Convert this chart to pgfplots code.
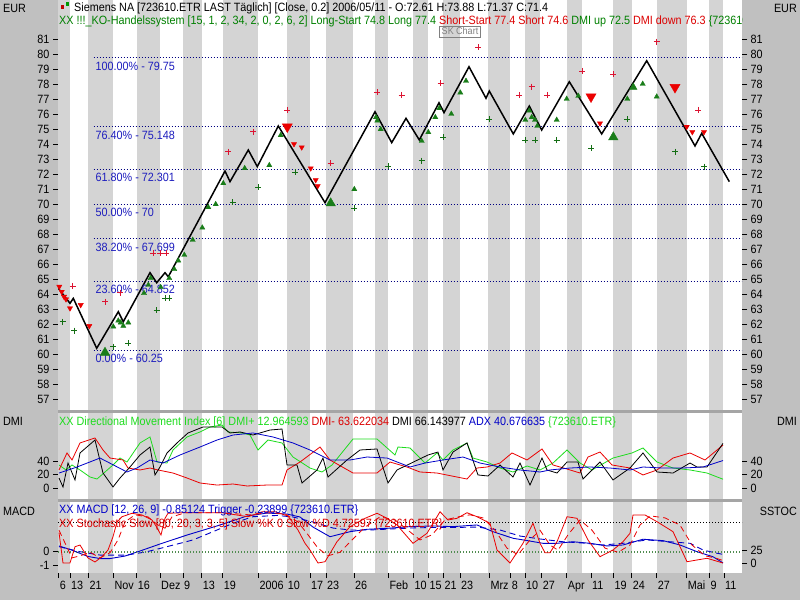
\documentclass[border=0pt]{standalone}
\usepackage{fontspec}
\setmainfont{Liberation Sans}[FakeStretch=0.9]
\usepackage{pgfplots}
\pgfplotsset{compat=1.18}
\definecolor{panelgray}{RGB}{192,192,192}
\definecolor{stripe}{RGB}{212,212,212}
\definecolor{sepgray}{RGB}{165,165,165}
\definecolor{mkred}{RGB}{235,0,0}
\definecolor{plred}{RGB}{220,20,50}
\definecolor{mkgreen}{RGB}{25,125,25}
\definecolor{plgreen}{RGB}{20,110,20}
\definecolor{dmigreen}{RGB}{30,220,30}
\definecolor{fibline}{RGB}{0,0,128}
\definecolor{fibtext}{RGB}{30,30,190}
\definecolor{txtgreen}{RGB}{0,128,0}
\definecolor{txtred}{RGB}{220,0,0}
\definecolor{ind}{RGB}{0,0,200}
\definecolor{dotgreen}{RGB}{80,140,80}
\newcommand\tf{\fontsize{12}{14}\selectfont}
\pgfplotsset{
  base/.style={scale only axis, width=684pt, xmin=58, xmax=742, anchor=south west,
    axis line style={draw=none}, tick align=outside, major tick length=5pt,
    tick style={black, line width=0.7pt},
    tick label style={font=\tf, text=black},
    /pgf/number format/assume math mode=true,
    xtick=\empty, clip=true},
  rightax/.style={ytick pos=right, yticklabel pos=right},
  leftax/.style={ytick pos=left, yticklabel pos=left},
}
\begin{document}
\begin{tikzpicture}
\path[use as bounding box, fill=panelgray] (0,0) rectangle (800pt,600pt);
\begin{scope}[x=1pt,y=-1pt,yshift=600pt]
  \fill[white] (58,0) rectangle (742,573);
  \foreach \a/\b in {58/70,88/113,137/160,183/202,223/258,287/310,326/353,375/388,413/428,443/460,488/510,525/540,567/582,613/632,657/687,709/723}
    {\fill[stripe] (\a,0) rectangle (\b,573);}
  \fill[sepgray] (58,410.5) rectangle (742,413);
  \fill[sepgray] (58,499) rectangle (742,501.5);
\end{scope}

% ---------------- main price panel
\begin{axis}[base, leftax, at={(58pt,188pt)}, height=412pt, ymin=56.1333, ymax=83.6, ytick={57,58,...,81}]
  \foreach \v in {79.75,75.148,72.301,70,67.699,64.852,60.25}{
    \edef\tmp{\noexpand\addplot[fibline, line width=0.8pt, dash pattern=on 0.9pt off 2.1pt] coordinates {(93.5,\v) (742,\v)};}\tmp}
  \addplot[black, line width=1.5pt] coordinates {(58.3,64.38) (70,63.38) (73.3,63.71) (96.7,60.38) (118.3,62.82) (123.3,62.15) (150,65.42) (156.7,64.75) (165,65.42) (168.3,65.15) (225,72.2) (230,71.49) (248.3,73.6) (257.3,72.49) (278.3,75.2) (325,70.09) (375,76.15) (391.7,74.09) (406,75.71) (419.3,74.27) (439,76.75) (444,76.09) (469,79.15) (486,77.05) (489.3,77.53) (513.3,74.67) (529.3,76.53) (541.7,74.93) (569.3,78.15) (601.7,74.67) (646.7,79.55) (695,73.87) (701.7,74.71) (729.3,71.49)};
  \addplot[only marks, mark=+, mark size=3pt, plred, mark options={line width=0.8pt}] coordinates {(72.7,64.53) (105,63.49) (120,64.09) (153.3,66.71) (160,66.71) (166,66.71) (228.3,73.49) (253.3,74.82) (287.3,76.27) (330.7,72.71) (377.3,77.45) (401.7,77.27) (440.7,78.05) (478.3,80.45) (519.3,77.25) (531.7,77.82) (547.3,77.27) (582.3,78.87) (613.3,78.65) (656.7,80.82) (698.3,76.27)};
  \addplot[only marks, mark=+, mark size=3pt, plgreen, mark options={line width=0.8pt}] coordinates {(62.7,62.15) (74,61.55) (113.3,60.49) (128.3,60.71) (156.7,62.93) (165,63.71) (169.3,63.71) (232.7,70.11) (258.3,71.11) (295,72.11) (354.3,69.71) (388.3,72.53) (421.7,72.89) (443.3,74.45) (489.3,75.65) (525.3,74.27) (535,74.27) (556.7,74.27) (591,73.71) (627.3,75.65) (675,73.49) (704,72.49)};
  \addplot[only marks, mark=triangle*, mark size=3pt, mkgreen] coordinates {(113.3,61.82) (118.3,62.22) (120.7,62.09) (123.3,61.87) (128.3,62.09) (144,64.05) (148.3,64.6) (150.7,65.05) (160.7,64.45) (169.3,65.05) (174.3,65.65) (178.3,66.22) (184.3,66.6) (192.7,67.6) (202.3,68.42) (208.3,69.78) (215.7,69.98) (223.3,71.38) (244.7,72.38) (269.3,72.58) (280.7,74.58) (354.3,70.98) (376,75.78) (377.3,75.55) (380.7,74.98) (421.7,74.2) (428.3,74.78) (435.3,75.78) (439.3,76.38) (451.3,76.0) (460.3,77.42) (466,78.2) (525.3,75.6) (529.3,76.22) (531.7,75.78) (535,75.6) (537.3,75.2) (556.7,75.6) (566.7,77.0) (578.3,77.2) (627.3,77.0) (642.7,78.0) (656.7,77.15)};
  \addplot[only marks, mark=triangle*, mark size=5.5pt, mkgreen] coordinates {(105,60.09) (330.7,70.05) (613.3,74.45)};
  \addplot[only marks, mark=triangle*, mark size=4.3pt, mkgreen] coordinates {(633.3,77.78)};
  \addplot[only marks, mark=triangle*, mark size=3pt, mkred, mark options={rotate=180}] coordinates {(59.3,64.49) (61.7,64.15) (64,63.82) (66,63.65) (70,63.05) (80.7,63.27) (89.3,61.87) (294,74.0) (301.7,73.78) (310.7,72.38) (315.7,71.6) (317.7,71.2) (600,75.38) (686.7,75.15) (692.3,74.8) (704,74.8)};
  \addplot[only marks, mark=triangle*, mark size=5.8pt, mkred, mark options={rotate=180}] coordinates {(287.3,75.15) (591,77.15) (675,77.78)};
  \foreach \v/\t in {79.75/100.00\% - 79.75, 75.148/76.40\% - 75.148, 72.301/61.80\% - 72.301, 70/50.00\% - 70, 67.699/38.20\% - 67.699, 64.852/23.60\% - 64.852, 60.25/0.00\% - 60.25}{
    \edef\tmp{\noexpand\node[anchor=base west, inner sep=0pt, text=fibtext, font=\noexpand\tf, yshift=-12.5pt] at (axis cs:95.5,\v) {\t};}\tmp}
\end{axis}
\begin{axis}[base, rightax, at={(58pt,188pt)}, height=412pt, ymin=56.1333, ymax=83.6, ytick={57,58,...,81}]
\end{axis}

% ---------------- DMI panel
\begin{axis}[base, leftax, at={(58pt,101pt)}, height=85pt, ymin=-16.30, ymax=109.63, ytick={0,20,40}]
  \addplot[dmigreen, line width=0.8pt] coordinates {(59,34.1) (66,26.7) (72,34.1) (80,26.7) (90,16.3) (97,13.3) (113,34.1) (120,44.4) (127,38.5) (140,66.7) (150,75.6) (157,38.5) (167,37.0) (173,56.3) (187,75.6) (200,83.0) (210,90.4) (222,93.3) (228,83.0) (242,81.5) (250,78.5) (258,56.3) (268,71.1) (282,66.7) (293,45.9) (310,29.6) (322,23.7) (332,34.1) (353,72.6) (377,72.6) (395,48.9) (398,60.7) (410,59.3) (425,37.0) (437,51.9) (443,41.5) (453,56.3) (467,66.7) (473,44.4) (487,38.5) (500,29.6) (513,23.7) (527,32.6) (540,26.7) (553,37.0) (567,56.3) (580,37.0) (592,26.7) (613,44.4) (632,51.9) (643,59.3) (657,38.5) (673,29.6) (690,26.7) (707,22.2) (723,13.0)};
  \addplot[mkred, line width=0.8pt] coordinates {(59,26.7) (67,51.9) (72,41.5) (80,66.7) (95,74.1) (103,56.3) (110,44.4) (123,41.5) (128,29.6) (140,26.7) (150,29.6) (158,26.7) (173,22.2) (187,14.8) (200,7.4) (217,4.4) (233,5.9) (247,3.0) (267,4.4) (282,4.4) (287,26.7) (300,38.5) (320,60.7) (330,41.5) (353,22.2) (377,22.2) (390,38.5) (407,31.1) (420,23.7) (437,22.2) (467,13.3) (477,29.6) (487,31.1) (500,37.0) (512,51.9) (527,41.5) (542,57.8) (553,34.1) (567,28.1) (580,22.2) (588,45.9) (600,53.3) (612,34.1) (630,29.6) (643,19.3) (657,26.7) (673,44.4) (690,51.9) (705,41.5) (723,63.6)};
  \addplot[black, line width=0.8pt] coordinates {(59,14.8) (63,1.5) (68,37.0) (75,11.9) (80,51.9) (95,71.1) (103,22.2) (113,1.5) (120,14.8) (130,31.1) (140,48.9) (150,60.7) (155,19.3) (160,31.1) (167,51.9) (177,66.7) (188,81.5) (203,90.4) (222,90.4) (230,81.5) (240,83.0) (253,78.5) (270,85.9) (282,87.4) (287,34.1) (297,34.1) (302,7.4) (317,26.7) (323,44.4) (328,16.3) (347,41.5) (360,56.3) (377,57.8) (388,7.4) (397,26.7) (428,48.9) (438,53.3) (443,26.7) (453,53.3) (467,66.7) (478,19.3) (488,17.8) (500,34.1) (513,16.3) (520,37.0) (530,4.4) (542,44.4) (547,26.7) (557,22.2) (567,38.5) (578,38.5) (583,13.3) (600,38.5) (613,11.9) (630,29.6) (643,51.9) (657,23.7) (673,22.2) (690,37.0) (697,31.1) (707,31.1) (723,66.1)};
  \addplot[ind, line width=0.8pt] coordinates {(59,22.2) (77,31.1) (100,44.4) (127,23.7) (137,29.6) (150,41.5) (163,37.0) (180,48.9) (200,60.7) (217,71.1) (233,78.5) (253,81.5) (273,75.6) (293,66.7) (310,56.3) (330,41.5) (350,41.5) (367,45.9) (387,44.4) (410,31.1) (425,37.0) (443,41.5) (463,45.9) (480,37.0) (500,31.1) (520,26.7) (540,23.7) (550,26.7) (570,29.6) (590,31.1) (610,29.6) (630,26.7) (643,31.1) (663,29.6) (683,29.6) (703,31.1) (723,40.7)};
\end{axis}
\begin{axis}[base, rightax, at={(58pt,101pt)}, height=85pt, ymin=-16.30, ymax=109.63, ytick={0,20,40}]
\end{axis}

% ---------------- MACD / Stochastic panel
\begin{axis}[base, leftax, at={(58pt,27pt)}, height=71pt, ymin=-1.5714, ymax=3.5, ytick={-1,0}, yticklabels={-1,0},
   xtick={58.7,70,88.3,113.3,136.7,160,183,201.7,222.7,258.3,286.7,310,326,354,388.3,413.3,428.3,443.3,460,489.3,510.7,525,541.7,566.7,591,613.3,631.7,656.7,686.7,709.3,724},
   xticklabels={6,13,21,Nov,16,Dez,9,13,19,2006,10,17,23,26,Feb,10,15,21,23,Mrz,8,10,27,Apr,11,19,24,27,Mai,9,11},
   xtick pos=bottom, xticklabel style={anchor=north west, inner sep=0pt, xshift=1pt, yshift=-3pt}]
  \addplot[dotgreen, line width=0.8pt, dash pattern=on 0.9pt off 2.1pt] coordinates {(58,0) (742,0)};
  \addplot[ind, line width=0.9pt] coordinates {(59,0.36) (70,0.11) (88,-0.39) (100,-0.54) (110,-0.54) (125,-0.36) (140,0.0) (160,0.5) (187,1.14) (217,1.79) (247,2.5) (267,2.71) (287,2.64) (300,2.43) (313,1.71) (330,1.02) (350,1.38) (367,1.55) (387,1.62) (410,1.74) (433,1.79) (453,1.74) (477,1.86) (493,1.38) (513,0.91) (530,0.71) (543,0.55) (557,0.55) (573,0.66) (590,0.55) (607,0.36) (623,0.43) (643,0.84) (663,0.74) (680,0.43) (697,-0.05) (713,-0.41) (723,-0.85)};
  \addplot[ind, line width=0.9pt, dash pattern=on 6pt off 4pt] coordinates {(59,0.31) (80,-0.05) (100,-0.29) (127,-0.29) (147,-0.05) (167,0.31) (193,0.79) (213,1.38) (233,1.98) (253,2.45) (277,2.54) (293,2.43) (313,2.07) (333,1.64) (350,1.5) (370,1.5) (390,1.57) (410,1.64) (433,1.68) (453,1.68) (477,1.71) (500,1.5) (520,1.07) (540,0.86) (563,0.66) (583,0.57) (603,0.43) (623,0.55) (647,0.79) (670,0.66) (690,0.55) (703,0.07) (717,-0.16) (723,-0.24)};
\end{axis}
\begin{axis}[base, rightax, at={(58pt,27pt)}, height=71pt, ymin=-19.51, ymax=119.02, ytick={0,25}]
  \addplot[black, line width=0.8pt, dash pattern=on 0.9pt off 2.1pt] coordinates {(58,80) (742,80)};
  \addplot[dotgreen, line width=0.8pt, dash pattern=on 0.9pt off 2.1pt] coordinates {(58,20) (742,20)};
  \addplot[mkred, line width=0.8pt] coordinates {(59,59.5) (63,0) (70,0) (75,31.8) (80,35.1) (88,9.8) (95,2.0) (102,12.3) (108,25.4) (113,51.3) (117,80.0) (122,90.3) (132,97.0) (142,93.7) (152,83.9) (156,72.2) (161,54.6) (165,87.2) (168,97.0) (182,98.1) (195,98.1) (222,98.1) (248,90.3) (262,100) (275,100) (288,91.7) (298,64.4) (305,38.4) (310,25.4) (318,0) (325,2.5) (337,41.6) (350,70.8) (365,87.2) (377,97.0) (387,87.2) (397,74.1) (413,38.4) (427,58.0) (440,100) (448,83.9) (457,87.2) (467,98.1) (477,90.3) (490,77.5) (497,25.4) (510,0) (523,38.4) (533,77.5) (540,38.4) (545,20.1) (550,20.1) (557,41.6) (567,90.3) (577,87.2) (588,44.9) (600,12.3) (613,25.4) (623,41.6) (630,58.0) (633,93.7) (645,93.7) (657,80.6) (673,61.1) (687,2.5) (697,5.9) (707,9.2) (723,0)};
  \addplot[mkred, line width=0.8pt, dash pattern=on 6pt off 4pt] coordinates {(59,64) (66,35) (72,10) (80,14) (90,21) (100,10) (110,20) (118,45) (125,80) (135,94) (148,90) (158,74) (165,68) (172,90) (185,98) (222,98) (250,94) (268,98) (285,96) (298,80) (308,55) (318,29) (328,14) (340,21) (352,45) (365,70) (380,90) (395,84) (408,64) (420,45) (432,55) (445,84) (458,90) (470,94) (483,88) (495,64) (507,29) (518,16) (530,45) (540,64) (550,35) (558,25) (568,55) (580,84) (592,64) (605,29) (618,21) (630,35) (640,74) (650,92) (665,88) (680,74) (692,35) (705,14) (715,10) (723,4.7)};
\end{axis}

% ---------------- texts
\begin{scope}[x=1pt,y=-1pt,yshift=600pt]
  \fill[red!75!black] (60.5,5) rectangle (64,9);
  \fill[green!60!black] (65.5,2) rectangle (69,6);
  \node[anchor=base west, inner sep=0pt, font=\tf] at (74,11.8) {Siemens NA [723610.ETR LAST Täglich] [Close, 0.2] 2006/05/11 - O:72.61 H:73.88 L:71.37 C:71.4};
  \begin{scope}
    \clip (58,0) rectangle (742,412);
    \node[anchor=base west, inner sep=0pt, font=\tf] at (59,25) {\color{txtgreen}XX !!!\_KO-Handelssystem [15, 1, 2, 34, 2, 0, 2, 6, 2] Long-Start 74.8 Long 77.4 \color{txtred}Short-Start 77.4 Short 74.6 \color{txtgreen}DMI up 72.5 \color{txtred}DMI down 76.3 \color{txtgreen}\{723610.ETR\}};
  \end{scope}
  \draw[gray, line width=0.7pt] (439.5,26) rectangle (480.5,37);
  \node[anchor=base, inner sep=0pt, font=\fontsize{10}{12}\selectfont, text=gray] at (460,34.5) {SK Chart};
  \node[anchor=base west, inner sep=0pt, font=\tf] at (59,425.5) {\color{dmigreen}XX Directional Movement Index [6] DMI+ 12.964593 \color{txtred}DMI- 63.622034 \color{black}DMI 66.143977 \color{ind}ADX 40.676635 \color{dmigreen}\{723610.ETR\}};
  \node[anchor=base west, inner sep=0pt, font=\tf, text=ind] at (59,513.5) {XX MACD [12, 26, 9] -0.85124 Trigger -0.23899 \{723610.ETR\}};
  \node[anchor=base west, inner sep=0pt, font=\tf, text=txtred] at (59,527) {XX Stochastic Slow [80, 20, 3, 3, 5] Slow \%K 0 Slow \%D 4.72597 \{723610.ETR\}};
  \node[anchor=base west, inner sep=0pt, font=\tf] at (3,12.5) {EUR};
  \node[anchor=base east, inner sep=0pt, font=\tf] at (797,12.5) {EUR};
  \node[anchor=base west, inner sep=0pt, font=\tf] at (3,425.5) {DMI};
  \node[anchor=base east, inner sep=0pt, font=\tf] at (797,425.5) {DMI};
  \node[anchor=base west, inner sep=0pt, font=\tf] at (3,515.5) {MACD};
  \node[anchor=base east, inner sep=0pt, font=\tf] at (797,515.5) {SSTOC};
\end{scope}
\end{tikzpicture}
\end{document}
